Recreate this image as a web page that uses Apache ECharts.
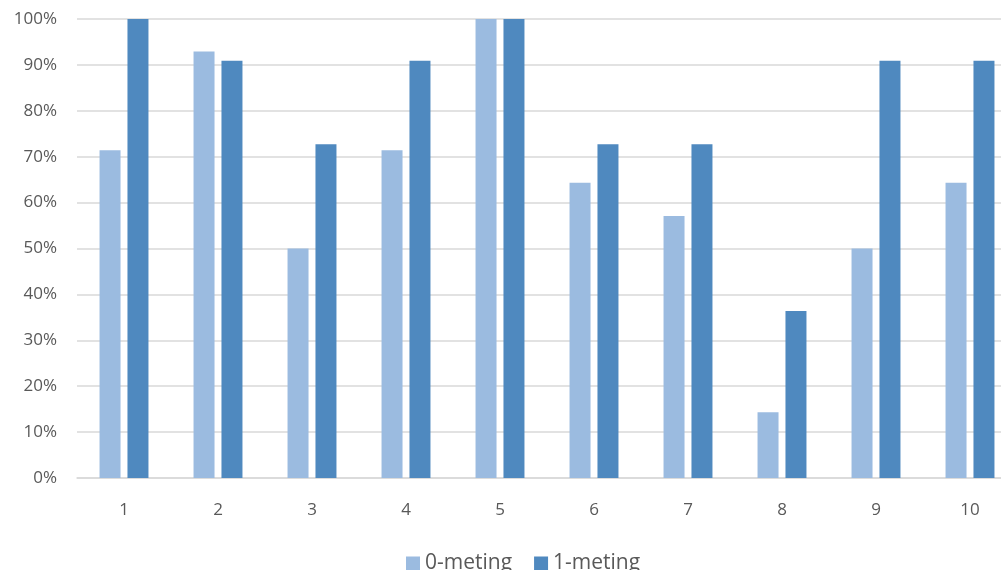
<!DOCTYPE html>
<html><head><meta charset="utf-8">
<script src="https://cdn.jsdelivr.net/npm/echarts@6/dist/echarts.min.js"></script>
<style>html,body{margin:0;padding:0;background:#fff;overflow:hidden}#c{width:1017px;height:570px}</style>
</head><body><div id="c"></div>
<script>
const categories = ['1','2','3','4','5','6','7','8','9','10'];
const meting0 = [71.4, 92.9, 50.0, 71.4, 100, 64.3, 57.1, 14.3, 50.0, 64.3];
const meting1 = [100, 90.9, 72.7, 90.9, 100, 72.7, 72.7, 36.4, 90.9, 90.9];
const seriesNames = ['0-meting', '1-meting'];
const chart = echarts.init(document.getElementById('c'));
const font = '"Open Sans", "Liberation Sans", sans-serif';
chart.setOption({
  animation: false,
  grid: {left: 77, top: 19, right: 0, height: 459, containLabel: false},
  legend: {
    data: seriesNames, bottom: -9, left: 401, itemWidth: 14, itemHeight: 14, itemGap: 22,
    icon: 'rect', textStyle: {fontFamily: font, fontSize: 21, color: '#595959'}
  },
  xAxis: {
    type: 'category', data: categories,
    axisLine: {lineStyle: {color: '#D9D9D9', width: 1.5}}, axisTick: {show: false},
    axisLabel: {fontFamily: font, fontSize: 17, color: '#595959', margin: 24}
  },
  yAxis: {
    type: 'value', min: 0, max: 100, interval: 10,
    axisLine: {show: false}, axisTick: {show: false},
    axisLabel: {formatter: '{value}%', fontFamily: font, fontSize: 17, color: '#595959', margin: 20},
    splitLine: {lineStyle: {color: '#D9D9D9', width: 1.5}}
  },
  series: [
    {name: seriesNames[0], type: 'bar', data: meting0, barWidth: 21, barGap: '33%', itemStyle: {color: '#9BBBE0'}},
    {name: seriesNames[1], type: 'bar', data: meting1, barWidth: 21, barGap: '33%', itemStyle: {color: '#4F89BF'}}
  ]
});
</script></body></html>
